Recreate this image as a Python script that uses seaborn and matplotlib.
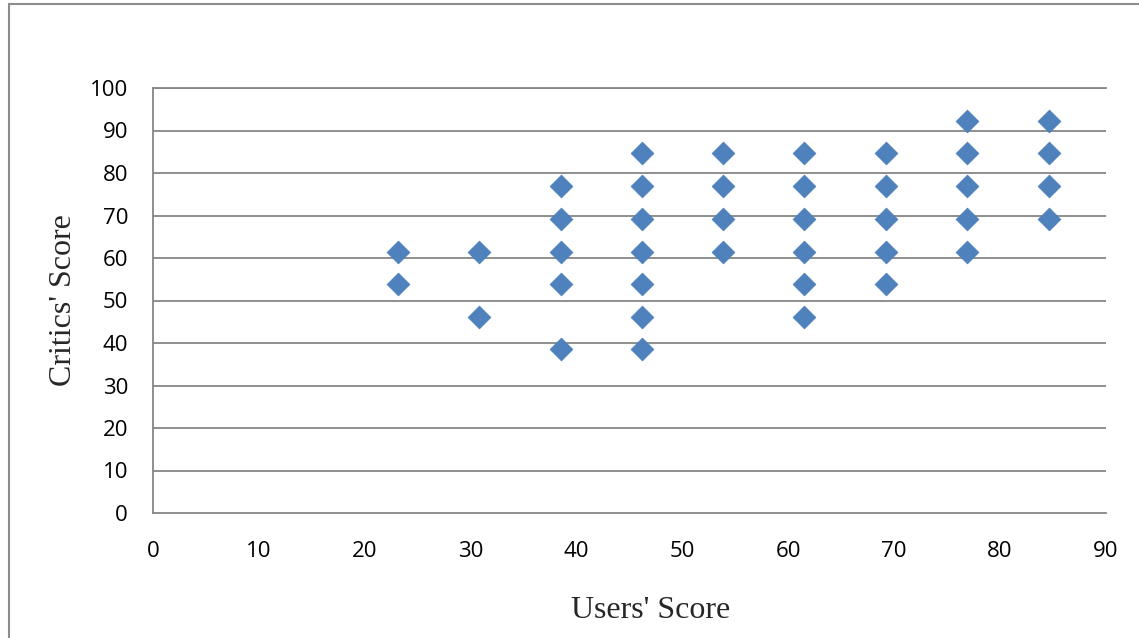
import matplotlib
matplotlib.use("Agg")
import matplotlib.pyplot as plt
import seaborn as sns
import pandas as pd
from matplotlib.lines import Line2D

users_score = [23.1, 23.1,
               30.8, 30.8,
               38.5, 38.5, 38.5, 38.5, 38.5,
               46.2, 46.2, 46.2, 46.2, 46.2, 46.2, 46.2,
               53.8, 53.8, 53.8, 53.8,
               61.5, 61.5, 61.5, 61.5, 61.5, 61.5,
               69.2, 69.2, 69.2, 69.2, 69.2,
               76.9, 76.9, 76.9, 76.9, 76.9,
               84.6, 84.6, 84.6, 84.6]
critics_score = [61.5, 53.8,
                 61.5, 46.2,
                 76.9, 69.2, 61.5, 53.8, 38.5,
                 84.6, 76.9, 69.2, 61.5, 53.8, 46.2, 38.5,
                 84.6, 76.9, 69.2, 61.5,
                 84.6, 76.9, 69.2, 61.5, 53.8, 46.2,
                 84.6, 76.9, 69.2, 61.5, 53.8,
                 92.3, 84.6, 76.9, 69.2, 61.5,
                 92.3, 84.6, 76.9, 69.2]
x_ticks = [0, 10, 20, 30, 40, 50, 60, 70, 80, 90]
y_ticks = [0, 10, 20, 30, 40, 50, 60, 70, 80, 90, 100]

df = pd.DataFrame({"Users' Score": users_score, "Critics' Score": critics_score})

sns.set_style("white")
W, H = 1139, 638
fig = plt.figure(figsize=(W / 100, H / 100), dpi=100)
ax = fig.add_axes([153 / W, 1 - 513 / H, (1106 - 153) / W, (513 - 88) / H])

grid_color = "#868686"
for y in y_ticks[1:]:
    ax.axhline(y, color=grid_color, lw=1.3, zorder=1)

sns.scatterplot(data=df, x="Users' Score", y="Critics' Score", ax=ax,
                marker="D", s=135, color="#4F81BD", edgecolor="#4A7EBB",
                linewidth=0.5, zorder=3, legend=False)

ax.set_xlim(0, 90)
ax.set_ylim(0, 100)
ax.set_xticks(x_ticks)
ax.set_yticks(y_ticks)
ax.tick_params(axis="x", length=0, labelsize=16, pad=20, colors="black")
ax.tick_params(axis="y", length=0, labelsize=16, pad=18, colors="black")
for lab in ax.get_xticklabels() + ax.get_yticklabels():
    lab.set_fontfamily("Open Sans")

for side in ["top", "left", "bottom"]:
    ax.spines[side].set_color(grid_color)
    ax.spines[side].set_linewidth(1.3)
ax.spines["right"].set_visible(False)

ax.set_xlabel("Users' Score", fontfamily="Liberation Serif", fontsize=23, labelpad=0)
ax.set_ylabel("Critics' Score", fontfamily="Liberation Serif", fontsize=23, labelpad=0)
ax.xaxis.set_label_coords((651 - 153) / (1106 - 153), -(596 - 513) / (513 - 88))
ax.yaxis.set_label_coords(-(153 - 78) / (1106 - 153), (513 - 300) / (513 - 88))

# outer chart border (left and top visible)
fig.add_artist(Line2D([9 / W, 9 / W], [0, 1 - 4 / H], color="#8c8c8c", lw=1.5, transform=fig.transFigure))
fig.add_artist(Line2D([9 / W, 1], [1 - 4 / H, 1 - 4 / H], color="#8c8c8c", lw=1.5, transform=fig.transFigure))

fig.savefig("out.png", dpi=100)
